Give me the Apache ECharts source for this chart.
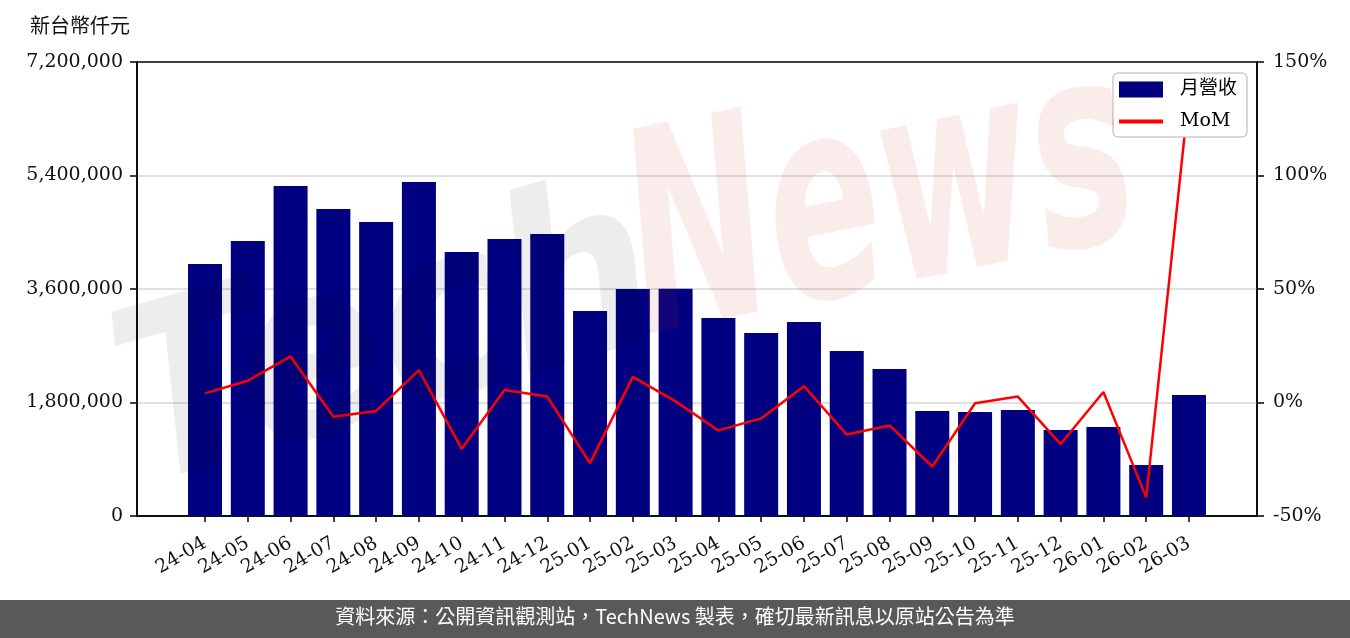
<!DOCTYPE html>
<html>
<head>
<meta charset="utf-8">
<script src="https://cdn.jsdelivr.net/npm/echarts@6/dist/echarts.min.js"></script>
<style>
html,body{margin:0;padding:0;background:#fff;}
#chart{width:1350px;height:638px;}
</style>
</head>
<body>
<div id="chart"></div>
<script>
const categories = ['24-04','24-05','24-06','24-07','24-08','24-09','24-10','24-11','24-12',
  '25-01','25-02','25-03','25-04','25-05','25-06','25-07','25-08','25-09','25-10','25-11','25-12',
  '26-01','26-02','26-03'];
const revenue = [3996000,4361000,5233000,4869000,4662000,5297000,4187000,4393000,4472000,
  3251000,3600000,3605000,3140000,2902000,3077000,2617000,2331000,1665000,1649000,1681000,1364000,
  1411000,809000,1919000];
const mom = [4.0,9.6,20.3,-6.3,-3.7,14.3,-20.4,5.5,2.6,
  -26.7,11.3,0.5,-12.3,-7.0,7.2,-14.1,-10.1,-28.2,-0.3,2.6,-18.3,
  4.6,-41.8,136.0];
const leftTicks = [0,1800000,3600000,5400000,7200000];
const rightTicks = [-50,0,50,100,150];

const serif = "'DejaVu Serif', 'Noto Sans CJK TC', serif";
const idx = categories.map((c,i)=>i);
const chart = echarts.init(document.getElementById('chart'), null, {renderer:'canvas'});
chart.setOption({
  animation:false,
  backgroundColor:'#fff',
  grid:{left:137,right:93,top:62,bottom:122,show:true,borderColor:'#000',borderWidth:1.5,backgroundColor:'transparent'},
  legend:{
    right:103, top:73, orient:'vertical',
    backgroundColor:'#fff', borderColor:'#cccccc', borderWidth:1.5, borderRadius:5,
    padding:[7,10,6,6], itemWidth:44, itemHeight:16, itemGap:13,
    textStyle:{fontFamily:serif,fontSize:19,color:'#000',padding:[0,0,0,12]},
    data:[{name:'月營收',icon:'rect'},{name:'MoM',icon:'path://M0,0H44V4H0Z',itemStyle:{color:'#ff0000',borderWidth:0}}]
  },
  xAxis:{
    type:'value', min:-1.59, max:24.59,
    splitLine:{show:false},
    axisLine:{onZero:false,lineStyle:{color:'#000',width:1.5}},
    axisTick:{customValues:idx,length:6,lineStyle:{color:'#000',width:1.5}},
    axisLabel:{customValues:idx,rotate:30,margin:26,formatter:v=>categories[Math.round(v)],
      fontFamily:serif,fontSize:19,color:'#111'}
  },
  yAxis:[{
    type:'value', min:leftTicks[0], max:leftTicks[leftTicks.length-1], interval:leftTicks[1]-leftTicks[0],
    axisLine:{show:true,onZero:false,lineStyle:{color:'#000',width:1.5}},
    axisTick:{show:true,length:7,lineStyle:{color:'#000',width:1.5}},
    splitLine:{show:true,showMinLine:false,showMaxLine:false,lineStyle:{color:'#d6d6d6',width:1.5}},
    axisLabel:{margin:14,fontFamily:serif,fontSize:19,color:'#111',
      formatter:v=>v.toString().replace(/\B(?=(\d{3})+(?!\d))/g, ',')}
  },{
    type:'value', position:'right', min:rightTicks[0], max:rightTicks[rightTicks.length-1], interval:rightTicks[1]-rightTicks[0],
    axisLine:{show:true,onZero:false,lineStyle:{color:'#000',width:1.5}},
    axisTick:{show:true,length:7,lineStyle:{color:'#000',width:1.5}},
    splitLine:{show:false},
    axisLabel:{margin:16,fontFamily:serif,fontSize:19,color:'#111',formatter:'{value}%'}
  }],
  series:[{
    type:'bar', name:'月營收', barWidth:34,
    data:categories.map((c,i)=>[i,revenue[i]]),
    itemStyle:{color:'#000080'}
  },{
    type:'line', name:'MoM', yAxisIndex:1, symbol:'none', showSymbol:false,
    data:categories.map((c,i)=>[i,mom[i]]),
    lineStyle:{color:'#ff0000',width:2.5}, itemStyle:{color:'#ff0000'}
  }],
  graphic:[
    {type:'text', x:160, y:540, rotation:0.28, scaleX:0.9, z:100, silent:true,
      style:{text:'Tech', font:'italic bold 240px "DejaVu Sans"', fill:'rgba(0,0,0,0.07)', textVerticalAlign:'bottom'}},
    {type:'text', x:660, y:400, rotation:0.2, scaleX:0.6, z:100, silent:true,
      style:{text:'News', font:'italic bold 280px "DejaVu Sans"', fill:'rgba(210,40,40,0.09)', textVerticalAlign:'bottom'}},
    {type:'text', left:30, top:15, style:{text:'新台幣仟元', font:'20px "Noto Sans CJK TC"', fill:'#111'}},
    {type:'rect', left:0, top:600, shape:{width:1350,height:38}, style:{fill:'#595959'}},
    {type:'text', left:'center', top:606, style:{text:'資料來源：公開資訊觀測站，TechNews 製表，確切最新訊息以原站公告為準', font:'20px "Noto Sans CJK TC"', fill:'#fff'}}
  ]
});
</script>
</body>
</html>
